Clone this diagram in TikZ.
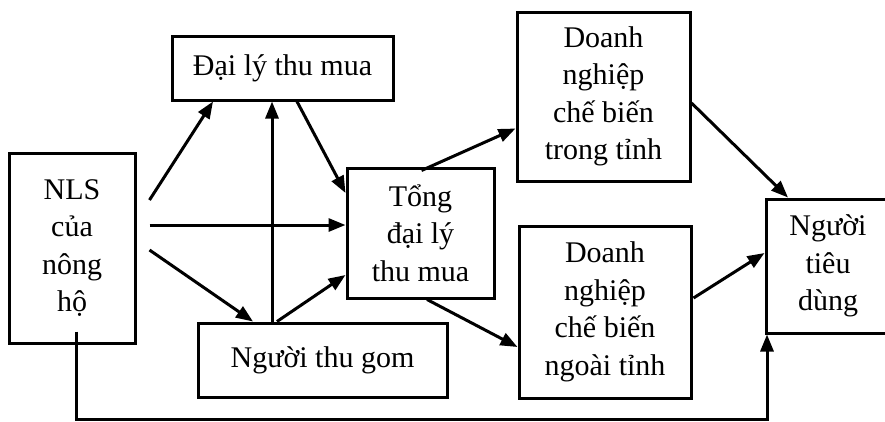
\documentclass[tikz,border=0pt]{standalone}
\usepackage{fontspec}
\setmainfont{Liberation Serif}
\usetikzlibrary{arrows.meta}
\begin{document}
\begin{tikzpicture}[x=1pt,y=-1pt,
  box/.style={draw,line width=3pt,align=center,inner sep=0pt,
    font=\fontsize{30}{37.5}\selectfont},
  arr/.style={line width=3pt,-{Triangle[length=17pt,width=13pt]}}]
\useasboundingbox (0,0) rectangle (885,421);
\node[box,minimum width=126pt,minimum height=190pt] (nls) at (72,248) {NLS\\của\\nông\\hộ};
\node[box,minimum width=221pt,minimum height=64pt] (daily) at (282.5,68) {Đại lý thu mua};
\node[box,minimum width=249pt,minimum height=74pt] (gom) at (322.5,360) {Người thu gom};
\node[box,minimum width=147pt,minimum height=130pt] (tong) at (420.5,233) {Tổng\\đại lý\\thu mua};
\node[box,minimum width=173pt,minimum height=169pt] (dntrong) at (603.5,96.5) {Doanh\\nghiệp\\chế biến\\trong tỉnh};
\node[box,minimum width=172pt,minimum height=172pt] (dnngoai) at (605,312) {Doanh\\nghiệp\\chế biến\\ngoài tỉnh};
\node[box,minimum width=124pt,minimum height=134pt] (ntd) at (828,266) {Người\\tiêu\\dùng};
\coordinate (bot) at (400,419.5);
% arrows
\draw[arr] ([shift={(13,-48)}]nls.east) -- ([shift={(-69.5,0)}]daily.south);
\draw[arr] ([shift={(-50.5,0)}]gom.north) -- ([shift={(-10.5,0)}]daily.south);
\draw[arr] ([shift={(14.5,0)}]daily.south) -- ([shift={(0,-40)}]tong.west);
\draw[arr] ([shift={(13,-23)}]nls.east) -- ([shift={(0,-8)}]tong.west);
\draw[arr] ([shift={(13,2)}]nls.east) -- ([shift={(-69.5,0)}]gom.north);
\draw[arr] ([shift={(-45.5,0)}]gom.north) -- ([shift={(0,42)}]tong.west);
\draw[arr] ([shift={(1,4)}]tong.north) -- ([shift={(0,32)}]dntrong.west);
\draw[arr] ([shift={(6.5,0)}]tong.south) -- ([shift={(0,35)}]dnngoai.west);
\draw[arr] ([shift={(0,6.5)}]dntrong.east) -- ([shift={(-40,0)}]ntd.north);
\draw[arr] ([shift={(1,-14)}]dnngoai.east) -- ([shift={(0,-13)}]ntd.west);
\draw[arr] ([shift={(4,-13)}]nls.south) |- (bot) -| ([shift={(-61,0)}]ntd.south);
\end{tikzpicture}
\end{document}
